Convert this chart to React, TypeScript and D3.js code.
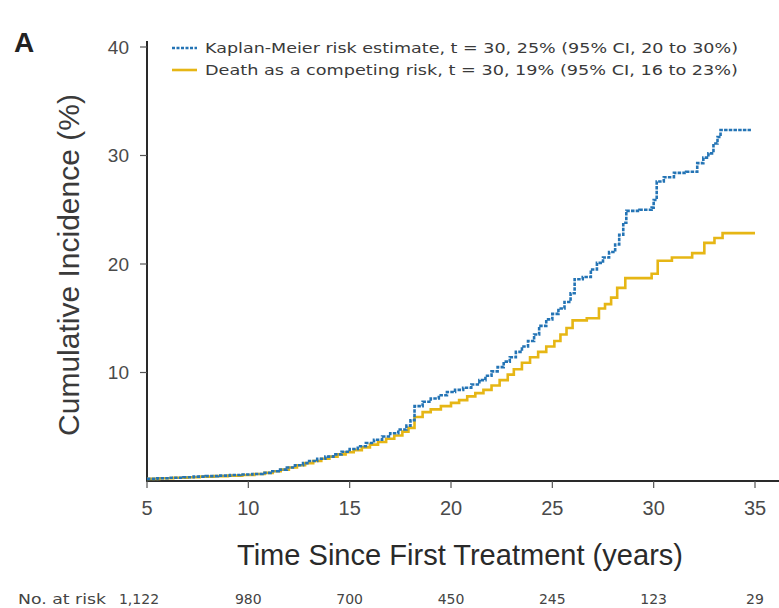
import React from "react";
import * as d3 from "d3";

// Kaplan-Meier risk estimate (step function: time -> cumulative incidence %)
const kmTimes = [5.0, 5.5, 6.1, 6.8, 7.3, 7.9, 8.5, 9.1, 9.6, 10.2, 10.7, 11.1, 11.5, 11.9, 12.3, 12.7, 13.0, 13.4, 13.8, 14.2, 14.6, 15.0, 15.4, 15.8, 16.2, 16.6, 17.0, 17.4, 17.8, 18.0, 18.2, 18.6, 19.0, 19.4, 19.8, 20.2, 20.6, 21.0, 21.4, 21.7, 22.0, 22.3, 22.6, 22.9, 23.2, 23.5, 23.8, 24.1, 24.35, 24.7, 25.0, 25.3, 25.6, 25.9, 26.1, 26.5, 26.9, 27.2, 27.5, 27.8, 28.1, 28.3, 28.5, 28.65, 29.3, 29.9, 30.0, 30.15, 30.5, 31.0, 31.6, 32.15, 32.45, 32.7, 32.95, 33.15, 33.3];
const kmValues = [0.2, 0.25, 0.3, 0.35, 0.4, 0.45, 0.5, 0.55, 0.6, 0.65, 0.75, 0.9, 1.05, 1.25, 1.45, 1.65, 1.85, 2.05, 2.25, 2.45, 2.7, 2.95, 3.2, 3.5, 3.8, 4.1, 4.4, 4.75, 5.1, 5.6, 6.9, 7.3, 7.6, 7.9, 8.2, 8.4, 8.6, 8.9, 9.3, 9.7, 10.1, 10.5, 11.0, 11.4, 11.9, 12.4, 12.9, 13.5, 14.3, 14.9, 15.4, 15.9, 16.5, 17.3, 18.6, 18.8, 19.5, 20.1, 20.6, 21.1, 21.8, 22.7, 23.8, 24.9, 25.0, 25.2, 25.9, 27.6, 28.0, 28.4, 28.5, 29.3, 29.8, 30.2, 31.1, 31.7, 32.35];
const kmEnd = 34.8;

// Death as a competing risk
const crTimes = [5.0, 5.6, 6.3, 7.0, 7.6, 8.3, 9.0, 9.7, 10.3, 10.8, 11.2, 11.6, 12.0, 12.4, 12.8, 13.2, 13.6, 14.0, 14.4, 14.8, 15.2, 15.6, 16.0, 16.4, 16.8, 17.2, 17.6, 17.9, 18.2, 18.6, 19.0, 19.5, 20.0, 20.4, 20.8, 21.2, 21.6, 22.0, 22.4, 22.8, 23.1, 23.5, 23.9, 24.3, 24.7, 25.1, 25.4, 25.7, 26.0, 26.7, 27.3, 27.6, 27.9, 28.2, 28.6, 29.9, 30.2, 30.9, 31.9, 32.5, 33.0, 33.4];
const crValues = [0.2, 0.25, 0.3, 0.35, 0.4, 0.45, 0.5, 0.55, 0.65, 0.75, 0.9, 1.05, 1.25, 1.45, 1.65, 1.85, 2.05, 2.25, 2.45, 2.65, 2.85, 3.1, 3.35, 3.6, 3.9, 4.2, 4.55, 4.9, 5.9, 6.35, 6.6, 6.9, 7.2, 7.45, 7.8, 8.1, 8.4, 8.8, 9.3, 9.8, 10.3, 10.9, 11.4, 11.9, 12.4, 12.9, 13.5, 14.1, 14.8, 15.0, 15.9, 16.3, 16.9, 17.8, 18.7, 19.1, 20.3, 20.6, 21.0, 21.95, 22.4, 22.85];
const crEnd = 35.0;

const xTicks = [5, 10, 15, 20, 25, 30, 35];
const yTicks = [10, 20, 30, 40];
const atRisk = ["1,122", "980", "700", "450", "245", "123", "29"];
const legendLabels = [
  "Kaplan-Meier risk estimate, t = 30, 25% (95% CI, 20 to 30%)",
  "Death as a competing risk, t = 30, 19% (95% CI, 16 to 23%)",
];

const BLUE = "#2474b5";
const YELLOW = "#e6b615";

export default function App() {
  const x = d3.scaleLinear().domain([5, 35]).range([147, 755]);
  const y = d3.scaleLinear().domain([0, 40]).range([481, 47]);

  const mk = (times: number[], vals: number[], end: number) => {
    const pts: [number, number][] = times.map((t, i) => [t, vals[i]]);
    pts.push([end, vals[vals.length - 1]]);
    return d3
      .line<[number, number]>()
      .x((d) => x(d[0]))
      .y((d) => y(d[1]))
      .curve(d3.curveStepAfter)(pts) as string;
  };

  const kmPath = mk(kmTimes, kmValues, kmEnd);
  const crPath = mk(crTimes, crValues, crEnd);

  const sans = "Liberation Sans, Arial, sans-serif";
  const wide = "DejaVu Sans, Verdana, sans-serif";

  return (
    <svg
      width={779}
      height={608}
      style={{ position: "absolute", left: 0, top: 0, background: "#fff" }}
    >
      <rect width={779} height={608} fill="#fff" />
      <text x={14} y={52} fontFamily={sans} fontWeight="bold" fontSize={28} fill="#222">
        A
      </text>

      {/* axes */}
      <line x1={147} x2={147} y1={41} y2={482} stroke="#2a2a2a" strokeWidth={2} />
      <line x1={146} x2={779} y1={481} y2={481} stroke="#2a2a2a" strokeWidth={2} />
      {yTicks.map((t) => (
        <g key={t}>
          <line x1={140} x2={147} y1={y(t)} y2={y(t)} stroke="#555" strokeWidth={1.2} />
          <text
            x={129}
            y={y(t)}
            dy="0.35em"
            textAnchor="end"
            fontFamily={sans}
            fontSize={19}
            fill="#4a4a4a"
          >
            {t}
          </text>
        </g>
      ))}
      {xTicks.map((t) => (
        <g key={t}>
          <line x1={x(t)} x2={x(t)} y1={481} y2={488} stroke="#555" strokeWidth={1.2} />
          <text
            x={x(t)}
            y={515}
            textAnchor="middle"
            fontFamily={sans}
            fontSize={20}
            fill="#4a4a4a"
          >
            {t}
          </text>
        </g>
      ))}

      {/* curves */}
      <path d={crPath} fill="none" stroke={YELLOW} strokeWidth={2.6} />
      <path
        d={kmPath}
        fill="none"
        stroke={BLUE}
        strokeWidth={2.6}
        strokeDasharray="3.5 1.2"
      />

      {/* legend */}
      <line x1={172} x2={197} y1={48} y2={48} stroke={BLUE} strokeWidth={2.6} strokeDasharray="3 1.5" />
      <line x1={172} x2={197} y1={70} y2={70} stroke={YELLOW} strokeWidth={2.6} />
      <text x={205} y={48} dy="0.35em" fontFamily={wide} fontSize={14.5} fill="#3a3a3a" textLength={533} lengthAdjust="spacingAndGlyphs">
        {legendLabels[0]}
      </text>
      <text x={205} y={70} dy="0.35em" fontFamily={wide} fontSize={14.5} fill="#3a3a3a" textLength={533} lengthAdjust="spacingAndGlyphs">
        {legendLabels[1]}
      </text>

      {/* axis titles */}
      <text
        x={460}
        y={565}
        textAnchor="middle"
        fontFamily={sans}
        fontSize={30}
        fill="#2a2a2a"
        textLength={446}
        lengthAdjust="spacingAndGlyphs"
      >
        Time Since First Treatment (years)
      </text>
      <text
        transform={`translate(79,265) rotate(-90)`}
        textAnchor="middle"
        fontFamily={sans}
        fontSize={30}
        fill="#3a3a3a"
      >
        Cumulative Incidence (%)
      </text>

      {/* number at risk */}
      <text x={18} y={604} fontFamily={wide} fontSize={14} fill="#444" textLength={88} lengthAdjust="spacingAndGlyphs">
        No. at risk
      </text>
      {atRisk.map((n, i) => (
        <text
          key={i}
          x={i === 0 ? 139 : x(xTicks[i])}
          y={604}
          textAnchor="middle"
          fontFamily={wide}
          fontSize={14}
          fill="#444"
        >
          {n}
        </text>
      ))}
    </svg>
  );
}
